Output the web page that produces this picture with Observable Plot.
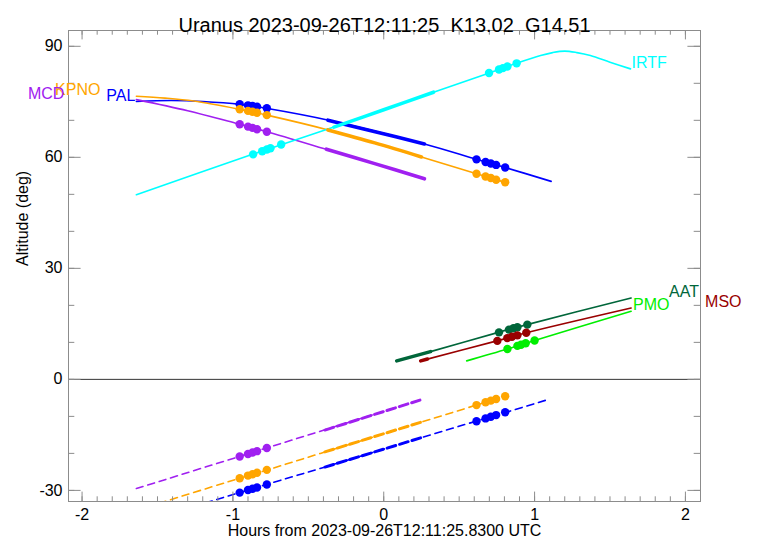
<!DOCTYPE html>
<html><head><meta charset="utf-8">
<script src="https://cdn.jsdelivr.net/npm/d3@7"></script>
<script src="https://cdn.jsdelivr.net/npm/@observablehq/plot@0.6"></script>
<style>
html,body{margin:0;padding:0;background:#fff;}
</style></head>
<body><div id="chart"></div>
<script>
// ---------- text ----------
const title = "Uranus 2023-09-26T12:11:25\u00a0\u00a0K13.02\u00a0\u00a0G14.51";
const xLabel = "Hours from 2023-09-26T12:11:25.8300 UTC";
const yLabel = "Altitude (deg)";
const xTicks = [-2, -1, 0, 1, 2];
const yTicks = [-30, 0, 30, 60, 90];
const yMinorTicks = [-30, -20, -10, 0, 10, 20, 30, 40, 50, 60, 70, 80, 90];
const xMinorTicks = d3.range(-20, 22).map(i => i / 10);

// ---------- data ----------
const sites = ["PAL", "KPNO", "MCD", "IRTF", "AAT", "MSO", "PMO"];
const siteColors = ["#0000ff", "#ffa500", "#a020f0", "#00ffff", "#00663a", "#990000", "#00ee00"];

// target altitude tracks (hours, deg)
const PAL_t   = [-1.64, -1.41, -1.2, -0.95, -0.77, -0.35, 0.27, 0.62, 0.81, 1.11];
const PAL_alt = [75.1, 75.35, 75.1, 74.3, 73.2, 69.9, 63.6, 59.4, 57.2, 53.5];
const KPNO_t   = [-1.64, -1.45, -1.26, -0.96, -0.775, -0.35, 0.25, 0.61, 0.80];
const KPNO_alt = [76.5, 76.0, 75.2, 73.0, 71.4, 67.2, 60.1, 55.6, 53.3];
const MCD_t   = [-1.64, -1.3, -0.97, -0.78, -0.35, 0.27];
const MCD_alt = [75.6, 72.6, 69.1, 67.0, 61.8, 54.2];
const IRTF_t   = [-1.64, -0.87, -0.68, -0.35, 0.33, 0.70, 0.88, 1.04, 1.12, 1.2, 1.28, 1.37, 1.5, 1.636];
const IRTF_alt = [49.9, 60.8, 63.4, 67.9, 77.6, 82.8, 85.4, 87.5, 88.3, 88.7, 88.3, 87.5, 85.7, 83.9];
const AAT_t   = [0.086, 0.31, 0.76, 0.95, 1.64];
const AAT_alt = [5.0, 7.5, 12.7, 14.8, 22.0];
const MSO_t   = [0.245, 0.75, 0.945, 1.64];
const MSO_alt = [5.0, 10.4, 12.6, 19.3];
const PMO_t   = [0.55, 0.82, 1.0, 1.64];
const PMO_alt = [5.0, 8.2, 10.5, 18.4];

// sun altitude tracks (dashed)
const PALsun_t   = [-1.64, -0.95, -0.77, -0.35, 0.245, 0.62, 0.81, 1.085];
const PALsun_alt = [-39.1, -30.5, -28.3, -23.2, -15.8, -11.2, -8.9, -5.5];
const KPNOsun_t   = [-1.64, -0.97, -0.775, -0.42, 0.245, 0.61, 0.80];
const KPNOsun_alt = [-35.4, -26.9, -24.5, -20.0, -11.6, -7.0, -4.6];
const MCDsun_t   = [-1.64, -0.97, -0.79, -0.42, 0.24];
const MCDsun_alt = [-29.5, -21.0, -18.7, -14.0, -5.6];

// highlighted windows (thick segments)
const PALwin_t = [-0.37, -0.05, 0.27],   PALwin_alt = [70.05, 66.85, 63.6];
const KPNOwin_t = [-0.37, -0.06, 0.25],  KPNOwin_alt = [67.4, 63.9, 60.1];
const MCDwin_t = [-0.38, -0.06, 0.27],   MCDwin_alt = [62.2, 58.3, 54.2];
const IRTFwin_t = [-0.33, 0.0, 0.33],    IRTFwin_alt = [68.15, 72.85, 77.6];
const AATwin_t = [0.086, 0.31],          AATwin_alt = [5.0, 7.5];
const MSOwin_t = [0.245, 0.29],          MSOwin_alt = [5.0, 5.5];
const PALsunWin_t = [-0.39, 0.245],  PALsunWin_alt = [-23.7, -15.8];
const KPNOsunWin_t = [-0.39, 0.245], KPNOsunWin_alt = [-19.6, -11.6];
const MCDsunWin_t = [-0.39, 0.24],   MCDsunWin_alt = [-13.7, -5.6];

// event dots
const evA = [-0.955, -0.90, -0.87, -0.84, -0.775];
const evB = [0.615, 0.675, 0.71, 0.745, 0.805];
const evIRTF_A = [-0.866, -0.806, -0.775, -0.751, -0.68];
const evIRTF_B = [0.698, 0.764, 0.79, 0.82, 0.881];
const evAAT = [0.764, 0.83, 0.86, 0.886, 0.952];
const evMSO = [0.753, 0.819, 0.85, 0.886, 0.945];
const evPMO = [0.82, 0.886, 0.91, 0.941, 1.0];
const PALdotA = [74.35, 74.05, 73.85, 73.7, 73.25], PALdotB = [59.45, 58.75, 58.35, 57.95, 57.25];
const KPNOdotA = [73.0, 72.55, 72.3, 72.05, 71.4],  KPNOdotB = [55.55, 54.8, 54.4, 53.95, 53.25];
const MCDdotA = [68.95, 68.3, 67.95, 67.6, 66.9];
const IRTFdotA = [60.8, 61.65, 62.1, 62.45, 63.45], IRTFdotB = [82.8, 83.75, 84.1, 84.55, 85.4];
const AATdot = [12.7, 13.45, 13.8, 14.1, 14.8];
const MSOdot = [10.4, 11.15, 11.5, 11.9, 12.6];
const PMOdot = [8.2, 9.05, 9.35, 9.75, 10.5];
const PALsunDotA = [-30.6, -29.9, -29.55, -29.2, -28.4], PALsunDotB = [-11.3, -10.55, -10.1, -9.65, -8.9];
const KPNOsunDotA = [-26.7, -26.0, -25.65, -25.25, -24.45], KPNOsunDotB = [-6.95, -6.2, -5.75, -5.3, -4.55];
const MCDsunDotA = [-20.85, -20.15, -19.75, -19.4, -18.55];

// ---------- build tables ----------
const rows = (site, t, a) => t.map((x, i) => ({site, t: x, alt: a[i]}));
const altTracks = [].concat(rows("PAL", PAL_t, PAL_alt), rows("KPNO", KPNO_t, KPNO_alt), rows("MCD", MCD_t, MCD_alt),
  rows("IRTF", IRTF_t, IRTF_alt), rows("AAT", AAT_t, AAT_alt), rows("MSO", MSO_t, MSO_alt), rows("PMO", PMO_t, PMO_alt));
const sunTracks = [].concat(rows("PAL", PALsun_t, PALsun_alt), rows("KPNO", KPNOsun_t, KPNOsun_alt), rows("MCD", MCDsun_t, MCDsun_alt));
const altWins = [].concat(rows("PAL", PALwin_t, PALwin_alt), rows("KPNO", KPNOwin_t, KPNOwin_alt), rows("MCD", MCDwin_t, MCDwin_alt),
  rows("IRTF", IRTFwin_t, IRTFwin_alt), rows("AAT", AATwin_t, AATwin_alt), rows("MSO", MSOwin_t, MSOwin_alt));
const sunWins = [].concat(rows("PAL", PALsunWin_t, PALsunWin_alt), rows("KPNO", KPNOsunWin_t, KPNOsunWin_alt), rows("MCD", MCDsunWin_t, MCDsunWin_alt));
const dots = [].concat(
  rows("PAL", evA, PALdotA), rows("PAL", evB, PALdotB), rows("KPNO", evA, KPNOdotA), rows("KPNO", evB, KPNOdotB),
  rows("MCD", evA, MCDdotA), rows("IRTF", evIRTF_A, IRTFdotA), rows("IRTF", evIRTF_B, IRTFdotB),
  rows("AAT", evAAT, AATdot), rows("MSO", evMSO, MSOdot), rows("PMO", evPMO, PMOdot),
  rows("PAL", evA, PALsunDotA), rows("PAL", evB, PALsunDotB), rows("KPNO", evA, KPNOsunDotA), rows("KPNO", evB, KPNOsunDotB),
  rows("MCD", evA, MCDsunDotA));

// site labels: at first point (left group) or last point (right group)
const leftSites = ["PAL", "KPNO", "MCD"];
const rightSites = ["IRTF", "PMO", "AAT", "MSO"];
const labelDx = {PAL: -1, KPNO: -36, MCD: -72, IRTF: 1, PMO: 2, AAT: 38, MSO: 74};
const labels = [];
for (const s of leftSites) { const r = altTracks.filter(d => d.site === s)[0]; labels.push({...r, anchor: "end"}); }
for (const s of rightSites) { const rr = altTracks.filter(d => d.site === s); labels.push({...rr[rr.length - 1], anchor: "start"}); }

// ---------- layout ----------
const W = 757, H = 544, mT = 30, mB = 43, mL = 68, mR = 57;
const pw = W - mL - mR, ph = H - mT - mB;
const axisColor = "#8c8c8c";
const fam = "'Liberation Sans', Arial, Helvetica, sans-serif";

const marks = [
  Plot.ruleY([0], {stroke: "#333", strokeWidth: 1}),
  Plot.line(sunTracks, {x: "t", y: "alt", z: "site", stroke: "site", strokeWidth: 1.6, strokeDasharray: "7,5", curve: "catmull-rom", clip: true}),
  Plot.line(sunWins, {x: "t", y: "alt", z: "site", stroke: "site", strokeWidth: 3, strokeDasharray: "9,4", clip: true}),
  Plot.line(altTracks, {x: "t", y: "alt", z: "site", stroke: "site", strokeWidth: 1.6, curve: "catmull-rom"}),
  Plot.line(altWins, {x: "t", y: "alt", z: "site", stroke: "site", strokeWidth: 3.6, curve: "catmull-rom"}),
  Plot.dot(dots, {x: "t", y: "alt", fill: "site", r: 4.2, stroke: null}),
  // frame + inward ticks on all four sides
  Plot.frame({stroke: axisColor, strokeWidth: 1}),
  Plot.tickX(xMinorTicks, {x: d => d, insetTop: ph - 4.7, stroke: axisColor}),
  Plot.tickX(xMinorTicks, {x: d => d, insetBottom: ph - 4.7, stroke: axisColor}),
  Plot.tickX(xTicks, {x: d => d, insetTop: ph - 9.4, stroke: axisColor}),
  Plot.tickX(xTicks, {x: d => d, insetBottom: ph - 9.4, stroke: axisColor}),
  Plot.tickY(yMinorTicks, {y: d => d, insetRight: pw - 6.3, stroke: axisColor}),
  Plot.tickY(yMinorTicks, {y: d => d, insetLeft: pw - 6.3, stroke: axisColor}),
  Plot.tickY(yTicks, {y: d => d, insetRight: pw - 12.6, stroke: axisColor}),
  Plot.tickY(yTicks, {y: d => d, insetLeft: pw - 12.6, stroke: axisColor}),
  // tick labels
  Plot.text(xTicks, {x: d => d, frameAnchor: "bottom", dy: 18, text: d => String(d), fontSize: 16, fill: "#000"}),
  Plot.text(yTicks, {y: d => d, frameAnchor: "left", dx: -6, textAnchor: "end", text: d => String(d), fontSize: 16, fill: "#000"}),
  // axis titles and main title
  Plot.text([xLabel], {frameAnchor: "bottom", dy: 34, text: d => d, fontSize: 16, fill: "#000"}),
  Plot.text([yLabel], {frameAnchor: "left", dx: -46, rotate: -90, text: d => d, fontSize: 16, fill: "#000"}),
  Plot.text([title], {frameAnchor: "top", dy: -13, text: d => d, fontSize: 20, fill: "#000"})
];
// site labels, each with its own horizontal offset
for (const lab of labels) {
  marks.push(Plot.text([lab], {x: "t", y: "alt", text: "site", fill: "site", textAnchor: lab.anchor, dx: labelDx[lab.site], dy: -6, fontSize: 16}));
}

const chart = Plot.plot({
  width: W, height: H,
  marginTop: mT, marginBottom: mB, marginLeft: mL, marginRight: mR,
  x: {domain: [-2.09, 2.1], axis: null},
  y: {domain: [-33, 94.27], axis: null},
  color: {domain: sites, range: siteColors},
  style: {fontFamily: fam, background: "#fff", overflow: "visible"},
  marks
});
document.getElementById("chart").appendChild(chart);
</script>
</body></html>
